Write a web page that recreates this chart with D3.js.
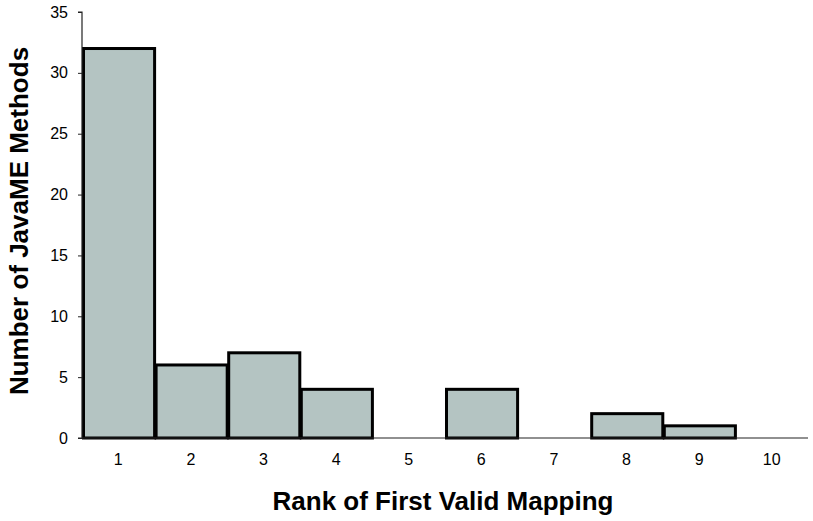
<!DOCTYPE html>
<html>
<head>
<meta charset="utf-8">
<script src="https://cdn.jsdelivr.net/npm/d3@7"></script>
<style>
html,body{margin:0;padding:0;background:#fff;}
text{font-family:"Liberation Sans",Arial,sans-serif;}
</style>
</head>
<body>
<svg id="chart" width="813" height="521"></svg>
<script>
const categories = ["1","2","3","4","5","6","7","8","9","10"];
const counts = [32, 6, 7, 4, 0, 4, 0, 2, 1, 0];
const yTicks = [0, 5, 10, 15, 20, 25, 30, 35];
const xTitle = "Rank of First Valid Mapping";
const yTitle = "Number of JavaME Methods";

const svg = d3.select("#chart");
const mLeft = 82, mRight = 808, mTop = 12, mBottom = 438;

const x = d3.scaleBand().domain(categories).range([mLeft, mRight]).padding(0);
const y = d3.scaleLinear().domain([0, 35]).range([mBottom, mTop]);

// bars
svg.append("g").selectAll("rect")
  .data(categories.map((c, i) => ({c, v: counts[i]})).filter(d => d.v > 0))
  .join("rect")
  .attr("x", d => x(d.c) + 1.5)
  .attr("y", d => y(d.v))
  .attr("width", x.bandwidth() - 1.5)
  .attr("height", d => y(0) - y(d.v))
  .attr("fill", "#b4c4c2")
  .attr("stroke", "#000")
  .attr("stroke-width", 3);

// y axis
const yAxis = d3.axisLeft(y).tickValues(yTicks).tickSize(4).tickPadding(10).tickFormat(d3.format("d"));
const gy = svg.append("g").attr("transform", `translate(${mLeft},0)`).call(yAxis);
gy.select(".domain").attr("stroke", "#222").attr("stroke-width", 1.2).attr("d", `M-4,${mTop}H0V${mBottom}H-4`);
gy.selectAll(".tick line").attr("stroke", "#222");
gy.selectAll(".tick text").attr("font-size", 16).attr("fill", "#000")
  .style("font-family", "'Liberation Sans', Arial, sans-serif");

// x axis
const xAxis = d3.axisBottom(x).tickSize(0).tickPadding(16);
const gx = svg.append("g").attr("transform", `translate(0,${mBottom})`).call(xAxis);
gx.select(".domain").attr("stroke", "#222").attr("stroke-width", 1.2).attr("d", `M${mLeft},0H${mRight}`);
gx.selectAll(".tick text").attr("font-size", 16).attr("fill", "#000")
  .style("font-family", "'Liberation Sans', Arial, sans-serif");

// titles
svg.append("text")
  .attr("x", 443).attr("y", 510)
  .attr("text-anchor", "middle")
  .attr("font-size", 26).attr("font-weight", "bold").attr("fill", "#000")
  .text(xTitle);

svg.append("text")
  .attr("transform", "translate(28,221) rotate(-90)")
  .attr("text-anchor", "middle")
  .attr("font-size", 26).attr("font-weight", "bold").attr("fill", "#000")
  .text(yTitle);
</script>
</body>
</html>
